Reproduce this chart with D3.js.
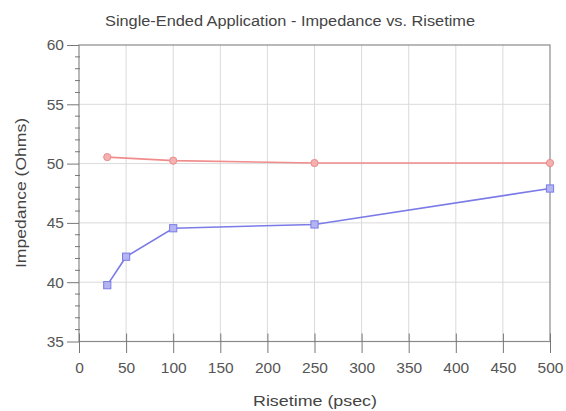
<!DOCTYPE html>
<html><head><meta charset="utf-8">
<script src="https://cdn.jsdelivr.net/npm/d3@7"></script>
<style>body{margin:0;background:#fff}svg{display:block;font-family:"Liberation Sans",Arial,sans-serif}</style>
</head><body>
<script>
const title = "Single-Ended Application - Impedance vs. Risetime";
const xTitle = "Risetime (psec)";
const yTitle = "Impedance (Ohms)";
const redX = [30, 100, 250, 500];
const redY = [50.55, 50.25, 50.05, 50.05];
const blueX = [30, 50, 100, 250, 500];
const blueY = [39.75, 42.15, 44.55, 44.87, 47.9];
const xTicks = [0, 50, 100, 150, 200, 250, 300, 350, 400, 450, 500];
const yTicks = [35, 40, 45, 50, 55, 60];
const yMinor = d3.range(35, 61, 1);

const W = 566, H = 411;
const svg = d3.select("body").append("svg").attr("width", W).attr("height", H);
const x = d3.scaleLinear().domain([0, 500]).range([79, 550]);
const y = d3.scaleLinear().domain([35, 60]).range([341.5, 45]);

// gridlines
svg.append("g").selectAll("line").data(xTicks.slice(1, -1)).join("line")
  .attr("x1", d => x(d)).attr("x2", d => x(d)).attr("y1", y(60)).attr("y2", y(35))
  .attr("stroke", "#dadada").attr("stroke-width", 1);
svg.append("g").selectAll("line").data(yTicks.slice(1, -1)).join("line")
  .attr("x1", x(0)).attr("x2", x(500)).attr("y1", d => y(d)).attr("y2", d => y(d))
  .attr("stroke", "#dadada").attr("stroke-width", 1);

// box
svg.append("rect").attr("x", x(0)).attr("y", y(60)).attr("width", x(500) - x(0)).attr("height", y(35) - y(60))
  .attr("fill", "none").attr("stroke", "#8a8a8a").attr("stroke-width", 1.2);

// x axis
const xa = svg.append("g").attr("transform", `translate(0,${y(35)})`)
  .call(d3.axisBottom(x).tickValues(xTicks).tickSize(11.5).tickPadding(9));
xa.select(".domain").remove();
xa.selectAll(".tick line").attr("stroke", "#777").attr("y1", -8);
xa.selectAll(".tick text").attr("fill", "#555").attr("font-size", 15.5);

// y axis
const ya = svg.append("g").attr("transform", `translate(${x(0)},0)`)
  .call(d3.axisLeft(y).tickValues(yTicks).tickSize(12).tickPadding(3));
ya.select(".domain").remove();
ya.selectAll(".tick line").attr("stroke", "#777");
ya.selectAll(".tick text").attr("fill", "#555").attr("font-size", 15.5);
svg.append("g").selectAll("line").data(yMinor.filter(d => d % 5 !== 0)).join("line")
  .attr("x1", x(0) - 4).attr("x2", x(0) + 1).attr("y1", d => y(d)).attr("y2", d => y(d))
  .attr("stroke", "#777");

// titles
svg.append("text").attr("x", 290).attr("y", 26).attr("text-anchor", "middle")
  .attr("font-size", 15.5).attr("fill", "#444")
  .attr("textLength", 370).attr("lengthAdjust", "spacingAndGlyphs").text(title);
svg.append("text").attr("x", 315).attr("y", 406).attr("text-anchor", "middle")
  .attr("font-size", 15.5).attr("fill", "#444")
  .attr("textLength", 124).attr("lengthAdjust", "spacingAndGlyphs").text(xTitle);
svg.append("text").attr("transform", `translate(26,193) rotate(-90)`)
  .attr("text-anchor", "middle").attr("font-size", 15.5).attr("fill", "#444")
  .attr("textLength", 150).attr("lengthAdjust", "spacingAndGlyphs").text(yTitle);

// series
const line = d3.line().x(d => x(d[0])).y(d => y(d[1]));
const red = redX.map((v, i) => [v, redY[i]]);
const blue = blueX.map((v, i) => [v, blueY[i]]);
svg.append("path").datum(red).attr("d", line).attr("fill", "none").attr("stroke", "#f08c8c").attr("stroke-width", 1.6);
svg.append("path").datum(blue).attr("d", line).attr("fill", "none").attr("stroke", "#7b7be8").attr("stroke-width", 1.6);
svg.append("g").selectAll("circle").data(red).join("circle")
  .attr("cx", d => x(d[0])).attr("cy", d => y(d[1])).attr("r", 3.6)
  .attr("fill", "#f5b0b0").attr("stroke", "#eb8a8a").attr("stroke-width", 1);
svg.append("g").selectAll("rect").data(blue).join("rect")
  .attr("x", d => x(d[0]) - 3.6).attr("y", d => y(d[1]) - 3.6).attr("width", 7.2).attr("height", 7.2)
  .attr("fill", "#b4b4f2").attr("stroke", "#7b7be8").attr("stroke-width", 1);
</script>
</body></html>
